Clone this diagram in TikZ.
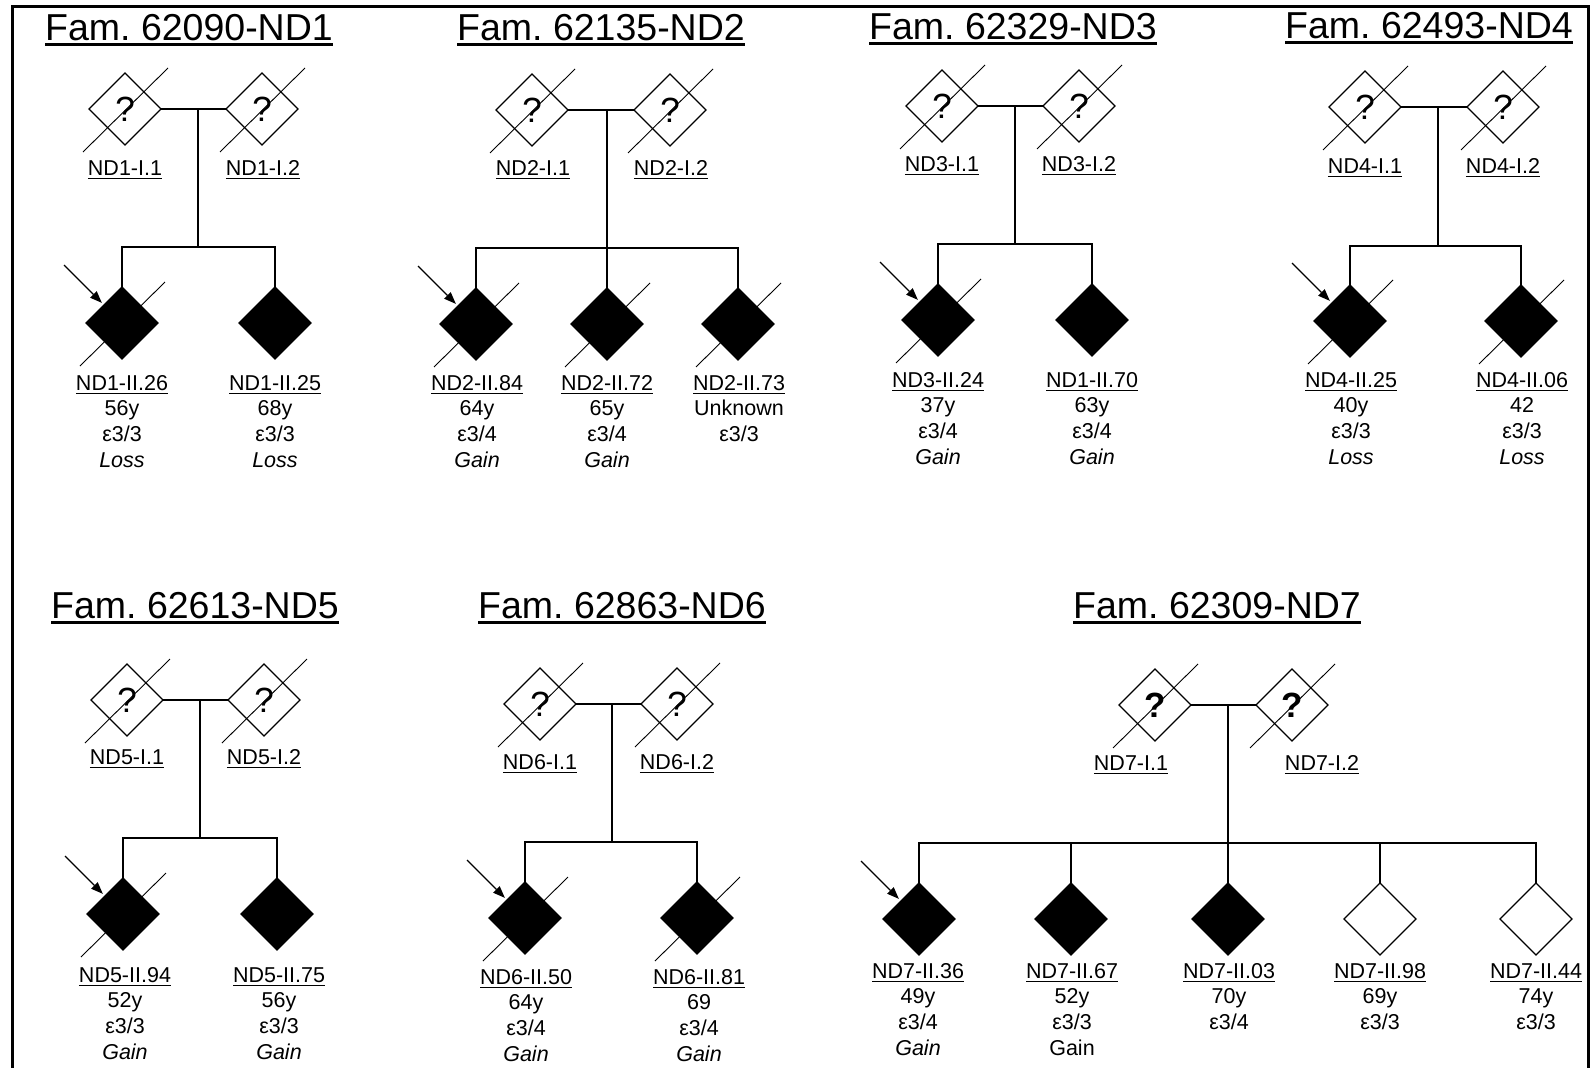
\documentclass[tikz,border=0pt]{standalone}
\usepackage{fontspec}
\setmainfont{Liberation Sans}
\usetikzlibrary{arrows.meta,shapes.geometric}
\frenchspacing
\newcommand\lfnt{\fontsize{21.5}{25.8}\selectfont}
\newcommand\tfnt{\fontsize{37.5}{44}\selectfont}
\newcommand\qfnt{\fontsize{35}{40}\selectfont}
\newcommand\ulab[1]{\setbox0\hbox{#1}\rlap{\rule[-4.2pt]{\wd0}{1.3pt}}\box0}
\newcommand\ultitle[1]{\setbox0\hbox{#1}\rlap{\rule[-6pt]{\wd0}{2.6pt}}\box0}
\tikzset{
  pd/.style={diamond, draw, line width=1.3pt, minimum width=72pt, minimum height=72pt,
    inner sep=0pt, outer sep=0pt, fill=white, font=\qfnt},
  aff/.style={pd, fill=black},
  ln/.style={line width=1.3pt},
  slashl/.style={line width=0.9pt, black},
  parr/.style={line width=1.2pt, -{Triangle[length=12pt,width=9pt]}, shorten >=3pt},
  lab/.style={font=\lfnt, inner sep=0pt, anchor=base},
  ttl/.style={font=\tfnt, inner sep=0pt, anchor=base},
}
\newcommand\info[4]{\foreach \ltxt [count=\i from 0] in {#4} {\node[lab] (#1\i) at (#2,{#3+\i*25.8}) {\ltxt};}}
\newcommand\dcsd[1]{\draw[slashl] ([shift={(-42,43)}]#1.center) -- ([shift={(43,-41)}]#1.center);}
\newcommand\proband[2]{\coordinate (#2) at ([shift={(-40,-40)}]#1.north west); \draw[parr] (#2) -- (#1.north west);}
\begin{document}
\begin{tikzpicture}[x=1pt,y=-1pt]
\useasboundingbox (0,0) rectangle (1593,1068);
\draw[line width=3pt] (12,1070) -- (12,6) -- (1588,6) -- (1588,1070);

% ---------- Family 1 ----------
\node[ttl] (at) at (189,40) {\ultitle{Fam. 62090-ND1}};
\node[pd] (a1) at (125,109) {?};
\node[pd] (a2) at (262,109) {?};
\node[aff] (ac1) at (122,323) {};
\node[aff] (ac2) at (275,323) {};
\coordinate (am) at (198,109); \coordinate (as) at (198,247);
\draw[ln] (a1.east) -- (a2.west);
\draw[ln] (am) -- (as);
\draw[ln] (ac1.north) |- (as) -| (ac2.north);
\dcsd{a1}\dcsd{a2}\dcsd{ac1}
\proband{ac1}{aarr}
\node[lab] (al1) at (125,175) {\ulab{ND1-I.1}};
\node[lab] (al2) at (263,175) {\ulab{ND1-I.2}};
\info{ai}{122}{390}{\ulab{ND1-II.26},56y,ε3/3,\textit{Loss}}
\info{aj}{275}{390}{\ulab{ND1-II.25},68y,ε3/3,\textit{Loss}}

% ---------- Family 2 ----------
\node[ttl] (bt) at (601,40) {\ultitle{Fam. 62135-ND2}};
\node[pd] (b1) at (532,110) {?};
\node[pd] (b2) at (670,110) {?};
\node[aff] (bc1) at (476,324) {};
\node[aff] (bc2) at (607,324) {};
\node[aff] (bc3) at (738,324) {};
\coordinate (bm) at (607,110); \coordinate (bs) at (607,248);
\draw[ln] (b1.east) -- (b2.west);
\draw[ln] (bm) -- (bc2.north);
\draw[ln] (bc1.north) |- (bs) -| (bc3.north);
\dcsd{b1}\dcsd{b2}\dcsd{bc1}\dcsd{bc2}\dcsd{bc3}
\proband{bc1}{barr}
\node[lab] (bl1) at (533,175) {\ulab{ND2-I.1}};
\node[lab] (bl2) at (671,175) {\ulab{ND2-I.2}};
\info{bi}{477}{390}{\ulab{ND2-II.84},64y,ε3/4,\textit{Gain}}
\info{bj}{607}{390}{\ulab{ND2-II.72},65y,ε3/4,\textit{Gain}}
\info{bk}{739}{390}{\ulab{ND2-II.73},Unknown,ε3/3}

% ---------- Family 3 ----------
\node[ttl] (ct) at (1013,39) {\ultitle{Fam. 62329-ND3}};
\node[pd] (c1) at (942,106) {?};
\node[pd] (c2) at (1079,106) {?};
\node[aff] (cc1) at (938,320) {};
\node[aff] (cc2) at (1092,320) {};
\coordinate (cm) at (1015,106); \coordinate (cs) at (1015,244);
\draw[ln] (c1.east) -- (c2.west);
\draw[ln] (cm) -- (cs);
\draw[ln] (cc1.north) |- (cs) -| (cc2.north);
\dcsd{c1}\dcsd{c2}\dcsd{cc1}
\proband{cc1}{carr}
\node[lab] (cl1) at (942,171) {\ulab{ND3-I.1}};
\node[lab] (cl2) at (1079,171) {\ulab{ND3-I.2}};
\info{ci}{938}{387}{\ulab{ND3-II.24},37y,ε3/4,\textit{Gain}}
\info{cj}{1092}{387}{\ulab{ND1-II.70},63y,ε3/4,\textit{Gain}}

% ---------- Family 4 ----------
\node[ttl] (dt) at (1429,38) {\ultitle{Fam. 62493-ND4}};
\node[pd] (d1) at (1365,107) {?};
\node[pd] (d2) at (1503,107) {?};
\node[aff] (dc1) at (1350,321) {};
\node[aff] (dc2) at (1521,321) {};
\coordinate (dm) at (1438,107); \coordinate (ds) at (1438,246);
\draw[ln] (d1.east) -- (d2.west);
\draw[ln] (dm) -- (ds);
\draw[ln] (dc1.north) |- (ds) -| (dc2.north);
\dcsd{d1}\dcsd{d2}\dcsd{dc1}\dcsd{dc2}
\proband{dc1}{darr}
\node[lab] (dl1) at (1365,173) {\ulab{ND4-I.1}};
\node[lab] (dl2) at (1503,173) {\ulab{ND4-I.2}};
\info{di}{1351}{387}{\ulab{ND4-II.25},40y,ε3/3,\textit{Loss}}
\info{dj}{1522}{387}{\ulab{ND4-II.06},42,ε3/3,\textit{Loss}}

% ---------- Family 5 ----------
\node[ttl] (et) at (195,618) {\ultitle{Fam. 62613-ND5}};
\node[pd] (e1) at (127,700) {?};
\node[pd] (e2) at (264,700) {?};
\node[aff] (ec1) at (123,914) {};
\node[aff] (ec2) at (277,914) {};
\coordinate (em) at (200,700); \coordinate (es) at (200,838);
\draw[ln] (e1.east) -- (e2.west);
\draw[ln] (em) -- (es);
\draw[ln] (ec1.north) |- (es) -| (ec2.north);
\dcsd{e1}\dcsd{e2}\dcsd{ec1}
\proband{ec1}{earr}
\node[lab] (el1) at (127,764) {\ulab{ND5-I.1}};
\node[lab] (el2) at (264,764) {\ulab{ND5-I.2}};
\info{ei}{125}{982}{\ulab{ND5-II.94},52y,ε3/3,\textit{Gain}}
\info{ej}{279}{982}{\ulab{ND5-II.75},56y,ε3/3,\textit{Gain}}

% ---------- Family 6 ----------
\node[ttl] (ft) at (622,618) {\ultitle{Fam. 62863-ND6}};
\node[pd] (f1) at (540,704) {?};
\node[pd] (f2) at (677,704) {?};
\node[aff] (fc1) at (525,918) {};
\node[aff] (fc2) at (697,918) {};
\coordinate (fm) at (612,704); \coordinate (fs) at (612,842);
\draw[ln] (f1.east) -- (f2.west);
\draw[ln] (fm) -- (fs);
\draw[ln] (fc1.north) |- (fs) -| (fc2.north);
\dcsd{f1}\dcsd{f2}\dcsd{fc1}\dcsd{fc2}
\proband{fc1}{farr}
\node[lab] (fl1) at (540,769) {\ulab{ND6-I.1}};
\node[lab] (fl2) at (677,769) {\ulab{ND6-I.2}};
\info{fi}{526}{984}{\ulab{ND6-II.50},64y,ε3/4,\textit{Gain}}
\info{fj}{699}{984}{\ulab{ND6-II.81},69,ε3/4,\textit{Gain}}

% ---------- Family 7 ----------
\node[ttl] (gt) at (1217,618) {\ultitle{Fam. 62309-ND7}};
\node[pd] (g1) at (1155,705) {\textbf{?}};
\node[pd] (g2) at (1292,705) {\textbf{?}};
\node[aff] (gc1) at (919,919) {};
\node[aff] (gc2) at (1071,919) {};
\node[aff] (gc3) at (1228,919) {};
\node[pd] (gc4) at (1380,919) {};
\node[pd] (gc5) at (1536,919) {};
\coordinate (gm) at (1228,705); \coordinate (gs) at (1228,843);
\draw[ln] (g1.east) -- (g2.west);
\draw[ln] (gm) -- (gc3.north);
\draw[ln] (gc1.north) |- (gs) -| (gc5.north);
\draw[ln] (gc2.north) -- (gc2.north |- gs);
\draw[ln] (gc4.north) -- (gc4.north |- gs);
\dcsd{g1}\dcsd{g2}
\proband{gc1}{garr}
\node[lab] (gl1) at (1131,770) {\ulab{ND7-I.1}};
\node[lab] (gl2) at (1322,770) {\ulab{ND7-I.2}};
\info{gi}{918}{978}{\ulab{ND7-II.36},49y,ε3/4,\textit{Gain}}
\info{gj}{1072}{978}{\ulab{ND7-II.67},52y,ε3/3,Gain}
\info{gk}{1229}{978}{\ulab{ND7-II.03},70y,ε3/4}
\info{gl}{1380}{978}{\ulab{ND7-II.98},69y,ε3/3}
\info{gn}{1536}{978}{\ulab{ND7-II.44},74y,ε3/3}
\end{tikzpicture}
\end{document}
